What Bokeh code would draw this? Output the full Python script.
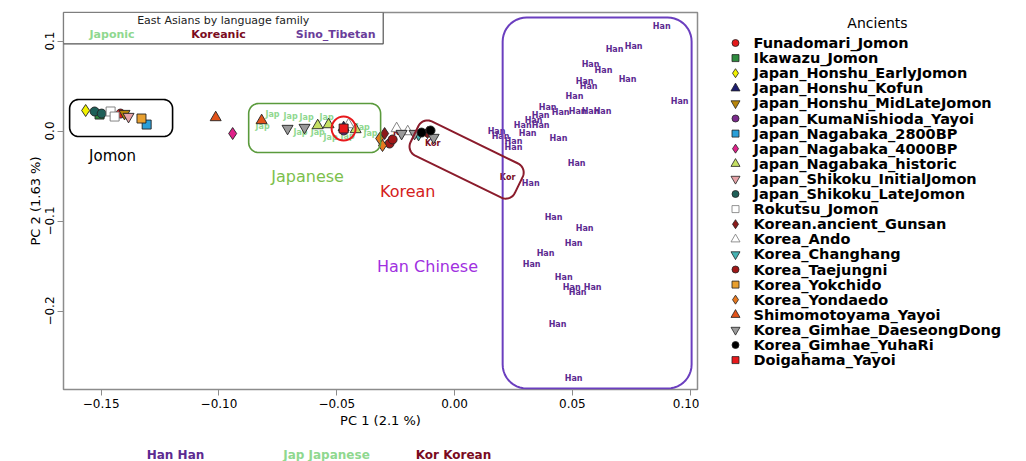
import numpy as np
from bokeh.plotting import figure
from bokeh.models import Range1d
from bokeh.layouts import row, column
from bokeh.embed import file_html
from bokeh.resources import INLINE
from bokeh.core.properties import value

# ---------------- data ----------------
x_ticks = [-0.15, -0.10, -0.05, 0.00, 0.05, 0.10]
x_tick_labels = ["\u22120.15", "\u22120.10", "\u22120.05", "0.00", "0.05", "0.10"]
y_ticks = [0.1, 0.0, -0.1, -0.2]
y_tick_labels = ["0.1", "0.0", "\u22120.1", "\u22120.2"]

han_x = [0.0879, 0.0679, 0.0760, 0.0577, 0.0632, 0.0734, 0.0552, 0.0569, 0.0955, 0.0509,
         0.0395, 0.0450, 0.0522, 0.0577, 0.0628, 0.0365, 0.0335, 0.0289, 0.0365, 0.0178,
         0.0195, 0.0310, 0.0441, 0.0250, 0.0250, 0.0518, 0.0323, 0.0420, 0.0552, 0.0505,
         0.0386, 0.0327, 0.0463, 0.0497, 0.0586, 0.0522, 0.0437, 0.0505]
han_y = [0.1161, 0.0906, 0.0939, 0.0739, 0.0672, 0.0572, 0.0550, 0.0494, 0.0328, 0.0383,
         0.0261, 0.0206, 0.0217, 0.0217, 0.0217, 0.0172, 0.0117, 0.0061, 0.0061, -0.0006,
         -0.0061, -0.0028, -0.0083, -0.0117, -0.0183, -0.0361, -0.0583, -0.0961, -0.1083, -0.1250,
         -0.1361, -0.1483, -0.1628, -0.1739, -0.1739, -0.1794, -0.2150, -0.2750]

kor_x = [-0.0093, 0.0225, -0.0229, -0.0144]
kor_y = [-0.0139, -0.0517, -0.0017, -0.0039]

jap_x = [-0.0773, -0.0696, -0.0628, -0.0543, -0.0815, -0.0654, -0.0581, -0.0454, -0.0526, -0.0390, -0.0357]
jap_y = [0.0183, 0.0161, 0.0150, 0.0150, 0.0050, -0.0017, -0.0017, -0.0061, -0.0072, 0.0039, -0.0028]

anc_names = ["Funadomari_Jomon", "Ikawazu_Jomon", "Japan_Honshu_EarlyJomon", "Japan_Honshu_Kofun",
             "Japan_Honshu_MidLateJomon", "Japan_KumaNishioda_Yayoi", "Japan_Nagabaka_2800BP",
             "Japan_Nagabaka_4000BP", "Japan_Nagabaka_historic", "Japan_Shikoku_InitialJomon",
             "Japan_Shikoku_LateJomon", "Rokutsu_Jomon", "Korean.ancient_Gunsan", "Korea_Ando",
             "Korea_Changhang", "Korea_Taejungni", "Korea_Yokchido", "Korea_Yondaedo",
             "Shimomotoyama_Yayoi", "Korea_Gimhae_DaeseongDong", "Korea_Gimhae_YuhaRi", "Doigahama_Yayoi"]
anc_x = [[-0.1418], [-0.1507], [-0.1566], [-0.0471], [-0.1401], [-0.0471], [-0.1307], [-0.0942],
         [-0.0581, -0.0535, -0.0420], [-0.1384], [-0.1528, -0.1498], [-0.1460, -0.1443],
         [-0.0297, -0.0115], [-0.0450, -0.0246, -0.0199], [-0.0153], [-0.0276, -0.0263],
         [-0.1329], [-0.0318, -0.0306], [-0.1014, -0.0819],
         [-0.0709, -0.0637, -0.0225, -0.0170, -0.0089], [-0.0140, -0.0102], [-0.0471]]
anc_y = [[0.0194], [0.0183], [0.0228], [0.0039], [0.0194], [0.0006], [0.0072], [-0.0028],
         [0.0061, 0.0072, 0.0017], [0.0161], [0.0217, 0.0194], [0.0217, 0.0161],
         [-0.0028, -0.0017], [0.0072, 0.0028, -0.0006], [-0.0039], [-0.0139, -0.0094],
         [0.0139], [-0.0083, -0.0161], [0.0150, 0.0117],
         [0.0028, 0.0039, -0.0028, -0.0028, -0.0072], [-0.0017, 0.0006], [0.0028]]

key_texts = ["Han Han", "Jap Japanese", "Kor Korean"]

# ---------------- styles ----------------
anc_markers = ["circle", "square", "diamond", "triangle", "inverted_triangle"] * 4 + ["circle", "square"]
anc_colors = ["#e41a1c", "#2e8b3e", "#f2f200", "#1c1c6e", "#b8860b", "#7b2a8c", "#2a9fd8",
              "#e0218a", "#c5e063", "#e7a3a8", "#1e5f58", "#ffffff", "#8b1a1a", "#ffffff",
              "#46b4b4", "#a01818", "#e8a030", "#e8781e", "#e2531a", "#9a9a9a", "#000000", "#e8191c"]
anc_lines = ["#222222"] * 22
anc_lines[11] = "#777777"
anc_lines[13] = "#777777"

HAN_COL = "#5c2a91"
KOR_COL = "#7a0b1e"
JAP_COL = "#8fd88f"
FONT = "DejaVu Sans"

X0, X1 = -0.1660, 0.1031
Y0, Y1 = -0.2872, 0.1317
FL, FW, FH = 63, 634, 377
SX = FW / (X1 - X0)
SY = FH / (Y1 - Y0)

MAIN_H = 440
p = figure(width=699, height=MAIN_H, x_range=Range1d(X0, X1), y_range=Range1d(Y0, Y1),
           output_backend="svg", toolbar_location=None,
           min_border_left=FL, min_border_right=2, min_border_top=12, min_border_bottom=MAIN_H - 12 - FH)
p.grid.visible = False
p.outline_line_color = "#8c8c8c"
p.outline_line_width = 1.5
p.background_fill_color = "white"
p.border_fill_color = "white"

p.xaxis.ticker = x_ticks
p.xaxis.major_label_overrides = {t: l for t, l in zip(x_ticks, x_tick_labels)}
p.yaxis.ticker = y_ticks
p.yaxis.major_label_overrides = {t: l for t, l in zip(y_ticks, y_tick_labels)}
p.yaxis.major_label_orientation = "vertical"
for ax in (p.xaxis, p.yaxis):
    ax.axis_line_color = None
    ax.major_tick_line_color = "#8c8c8c"
    ax.major_tick_out = 6
    ax.major_tick_in = 0
    ax.minor_tick_line_color = None
    ax.major_label_text_font = FONT
    ax.major_label_text_font_size = "12px"
    ax.major_label_text_color = "black"
    ax.major_label_standoff = 3
    ax.axis_label_text_font = FONT
    ax.axis_label_text_font_size = "13px"
    ax.axis_label_text_font_style = "normal"
    ax.axis_label_text_color = "black"
    ax.axis_label_standoff = 2
p.xaxis.axis_label = "PC 1 (2.1 %)"
p.yaxis.axis_label = "PC 2 (1.63 %)"
p.yaxis.axis_label_standoff = 0

# text labels of modern samples
p.text(x=han_x, y=han_y, text=["Han"] * len(han_x), text_font=value(FONT), text_font_style="bold",
       text_font_size="8px", text_color=HAN_COL, text_align="center", text_baseline="middle")
p.text(x=jap_x, y=jap_y, text=["Jap"] * len(jap_x), text_font=value(FONT), text_font_style="bold",
       text_font_size="8px", text_color=JAP_COL, text_align="center", text_baseline="middle")
p.text(x=kor_x, y=kor_y, text=["Kor"] * len(kor_x), text_font=value(FONT), text_font_style="bold",
       text_font_size="8px", text_color=KOR_COL, text_align="center", text_baseline="middle")

# ancient samples
for i in range(len(anc_names)):
    m = anc_markers[i]
    size = 9
    if "triangle" in m:
        size = 11
    elif m == "diamond":
        size = 12
    p.scatter(anc_x[i], anc_y[i], marker=m, size=size, fill_color=anc_colors[i],
              line_color=anc_lines[i], line_width=0.9)

# red ring around Doigahama
p.scatter(anc_x[21], anc_y[21], marker="circle", size=24, fill_color=None,
          line_color="#e8191c", line_width=2)


def rounded_rect(cx, cy, w, h, r, ang_deg, n=12):
    hw, hh = w / 2 - r, h / 2 - r
    pts = []
    for ox, oy, a0 in [(hw, hh, 0), (-hw, hh, 90), (-hw, -hh, 180), (hw, -hh, 270)]:
        for t in np.linspace(np.radians(a0), np.radians(a0 + 90), n):
            pts.append((ox + r * np.cos(t), oy + r * np.sin(t)))
    pts.append(pts[0])
    pts = np.array(pts)
    a = np.radians(ang_deg)
    rx = pts[:, 0] * np.cos(a) - pts[:, 1] * np.sin(a)
    ry = pts[:, 0] * np.sin(a) + pts[:, 1] * np.cos(a)
    return cx + rx / SX, cy + ry / SY


def box_from_extent(left, right, top, bottom, r):
    return rounded_rect((left + right) / 2, (top + bottom) / 2,
                        (right - left) * SX, (top - bottom) * SY, r, 0)


bx, by = box_from_extent(-0.1634, -0.1197, 0.0350, -0.0061, 9)
p.line(bx, by, line_color="black", line_width=1.6)
bx, by = box_from_extent(-0.0874, -0.0314, 0.0306, -0.0239, 10)
p.line(bx, by, line_color="#5a9a3c", line_width=1.6)
bx, by = box_from_extent(0.0204, 0.1006, 0.1261, -0.2861, 24)
p.line(bx, by, line_color="#6b3fbf", line_width=2)
bx, by = rounded_rect(0.0051, -0.0317, 116, 38, 10, -26)
p.line(bx, by, line_color="#8b1c2c", line_width=2)

# region labels
p.text(x=[-0.1452], y=[-0.0272], text=["Jomon"], text_font=value(FONT), text_font_size="15px",
       text_color="black", text_align="center", text_baseline="middle")
p.text(x=[-0.0624], y=[-0.0506], text=["Japanese"], text_font=value(FONT), text_font_size="16px",
       text_color="#7cc04c", text_align="center", text_baseline="middle")
p.text(x=[-0.0199], y=[-0.0672], text=["Korean"], text_font=value(FONT), text_font_size="16px",
       text_color="#d42020", text_align="center", text_baseline="middle")
p.text(x=[-0.0115], y=[-0.1506], text=["Han Chinese"], text_font=value(FONT), text_font_size="16px",
       text_color="#a030e0", text_align="center", text_baseline="middle")

# inset legend (top-left)
p.quad(left=[X0], right=[-0.0303], top=[Y1], bottom=[0.0969], fill_color="white",
       line_color="#555555", line_width=1.2)
p.text(x=[-0.0982], y=[0.1228], text=["East Asians by language family"], text_font=value(FONT),
       text_font_size="11px", text_color="#222222", text_align="center", text_baseline="middle")
p.text(x=[-0.1454, -0.1002, -0.0505], y=[0.1078] * 3, text=["Japonic", "Koreanic", "Sino_Tibetan"],
       text_font=value(FONT), text_font_style="bold", text_font_size="11px",
       text_color=[JAP_COL, KOR_COL, "#6a3d9a"], text_align="center", text_baseline="middle")

# ---------------- bottom key (separate strip, frame aligned with main frame) ----------------
KEY_H = 461 - MAIN_H
key = figure(width=699, height=KEY_H, x_range=Range1d(FL, FL + FW), y_range=Range1d(KEY_H, 0),
             output_backend="svg", toolbar_location=None, min_border=0,
             min_border_left=FL, min_border_right=2,
             x_axis_location=None, y_axis_location=None)
key.grid.visible = False
key.outline_line_color = None
key.text(x=[175, 326, 453], y=[KEY_H - 6.5] * 3, text=key_texts, text_font=value(FONT),
         text_font_style="bold", text_font_size="12px", text_color=[HAN_COL, JAP_COL, KOR_COL],
         text_align="center", text_baseline="middle")

# ---------------- right legend ----------------
lg = figure(width=327, height=461, x_range=Range1d(0, 327), y_range=Range1d(461, 0),
            output_backend="svg", toolbar_location=None, min_border=0,
            x_axis_location=None, y_axis_location=None)
lg.grid.visible = False
lg.outline_line_color = None
rows_y = [42.5 + 15.1 * i for i in range(len(anc_names))]
for i in range(len(anc_names)):
    m = anc_markers[i]
    size = 7
    if "triangle" in m:
        size = 9
    elif m == "diamond":
        size = 9
    lg.scatter([36], [rows_y[i]], marker=m, size=size, fill_color=anc_colors[i],
               line_color=anc_lines[i], line_width=0.8)
lg.text(x=[54] * len(anc_names), y=rows_y, text=anc_names, text_font=value(FONT),
        text_font_style="bold", text_font_size="14.5px", text_color="black",
        text_align="left", text_baseline="middle")
lg.text(x=[178], y=[22], text=["Ancients"], text_font=value(FONT), text_font_size="14px",
        text_color="black", text_align="center", text_baseline="middle")

layout = row(column(p, key), lg)
open("out.html", "w").write(file_html(layout, INLINE))
